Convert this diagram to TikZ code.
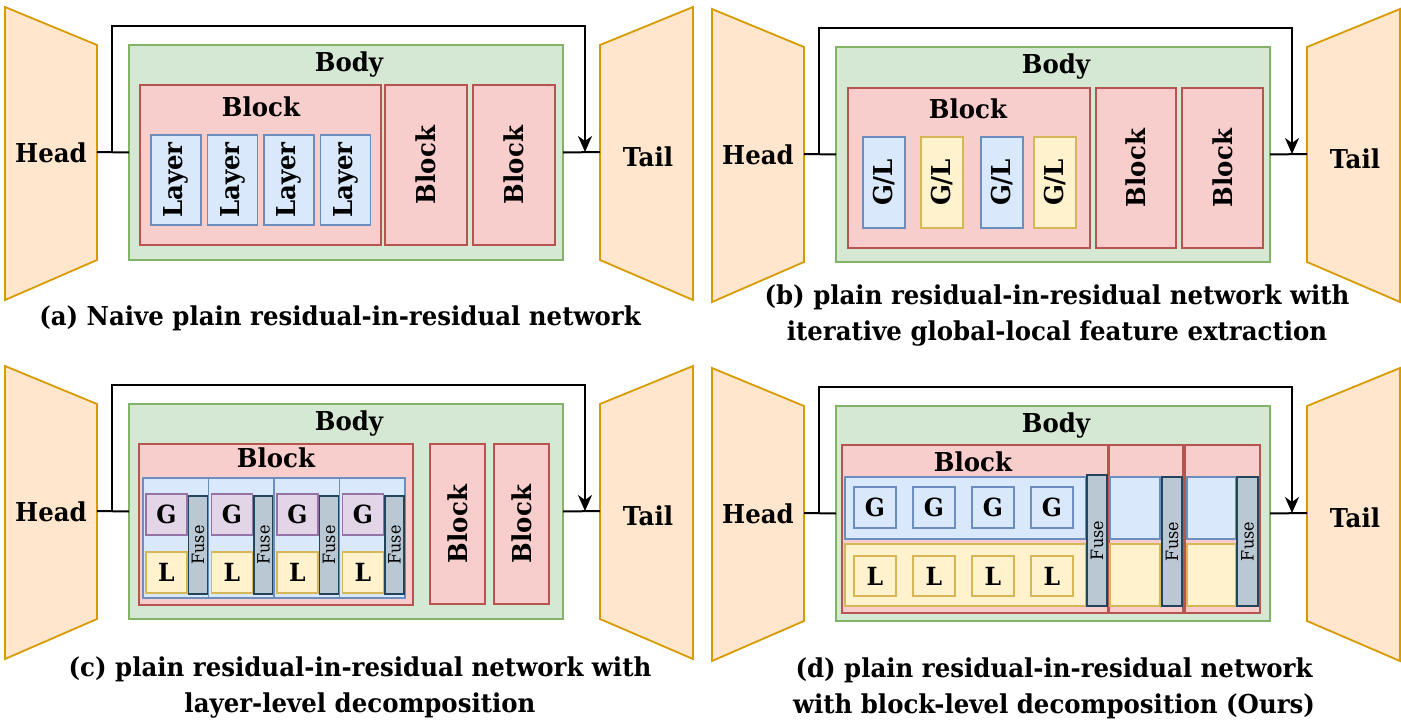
\documentclass[tikz,border=0pt]{standalone}
\usepackage{fontspec}
\setmainfont{DejaVu Serif}[FakeStretch=0.94]
\usetikzlibrary{arrows.meta,calc}
\definecolor{hdF}{HTML}{FFE6CC}\definecolor{hdD}{HTML}{D79B00}
\definecolor{bdF}{HTML}{D5E8D4}\definecolor{bdD}{HTML}{82B366}
\definecolor{bkF}{HTML}{F8CECC}\definecolor{bkD}{HTML}{B85450}
\definecolor{blF}{HTML}{DAE8FC}\definecolor{blD}{HTML}{6C8EBF}
\definecolor{ylF}{HTML}{FFF2CC}\definecolor{ylD}{HTML}{D6B656}
\definecolor{puF}{HTML}{E1D5E7}\definecolor{puD}{HTML}{9673A6}
\definecolor{fuF}{HTML}{BAC8D3}\definecolor{fuD}{HTML}{23445D}
\tikzset{
 box/.style={draw, line width=1.6pt, inner sep=0pt, outer sep=0pt, font=\fontsize{25}{28}\selectfont\bfseries},
 headst/.style={draw=hdD, fill=hdF, line width=1.8pt, line join=miter},
 bodybox/.style={box, fill=bdF, draw=bdD},
 blockbox/.style={box, fill=bkF, draw=bkD},
 bluebox/.style={box, fill=blF, draw=blD},
 yelbox/.style={box, fill=ylF, draw=ylD},
 purbox/.style={box, fill=puF, draw=puD},
 fusebox/.style={box, fill=fuF, draw=fuD},
 ttl/.style={font=\fontsize{26}{30}\selectfont\bfseries, inner sep=0pt},
 vtxt/.style={ttl, rotate=90},
 fusetxt/.style={font=\fontsize{17}{20}\selectfont, inner sep=0pt, rotate=90},
 capt/.style={font=\fontsize{26}{36}\selectfont\bfseries, inner sep=0pt, align=center},
 wire/.style={line width=2pt, black},
 arr/.style={wire, -{Stealth[length=16pt,width=14pt,inset=5pt]}},
}
\newcommand\Rbox[7]{%
 \node[#2, minimum width={(#5)-(#3)}, minimum height={(#6)-(#4)}] (#1) at ({((#3)+(#5))/2},{((#4)+(#6))/2}) {#7};}
\newcommand\Frame[3]{%
 \begin{scope}[shift={(#2,#3)}]
  \draw[headst] (5,7) -- (97,45) -- (97,260) -- (5,300) -- cycle;
  \coordinate (#1hr) at (97,152);
  \node[ttl] (#1hl) at (51,153) {Head};
  \Rbox{#1body}{bodybox}{129}{45}{563}{260}{}
  \node[ttl] (#1bl) at (349,65) {Body};
  \draw[headst] (600,45) -- (693,7) -- (693,300) -- (600,260) -- cycle;
  \coordinate (#1tl) at (600,152);
  \node[ttl] (#1tlab) at (648,157) {Tail};
  \coordinate (#1s) at (112,152);
  \coordinate (#1u) at (112,26);
  \coordinate (#1t) at (585,152);
 \end{scope}
 \draw[wire] (#1hr) -- (#1body.west);
 \draw[wire] (#1body.east) -- (#1tl);
 \draw[arr] (#1s) -- (#1u) -| (#1t);
}
\begin{document}
\begin{tikzpicture}[x=1pt,y=-1pt]
\useasboundingbox (0,0) rectangle (1401,723);
\Frame{a}{0}{0}
\Frame{b}{707}{2}
\Frame{c}{0}{359}
\Frame{d}{707}{361}
% ---------- panel (a)
\Rbox{ablk}{blockbox}{140}{85}{381}{245}{}
\node[ttl] (ablkl) at (261,107) {Block};
\foreach \i/\x in {1/151,2/207.5,3/264,4/320.5}{
 \Rbox{aly\i}{bluebox}{\x}{135}{\x+50}{225}{}
 \node[vtxt] (alyt\i) at (aly\i) {Layer};}
\Rbox{ab2}{blockbox}{385}{85}{467}{245}{}
\node[vtxt] (ab2t) at (ab2) {Block};
\Rbox{ab3}{blockbox}{473}{85}{555}{245}{}
\node[vtxt] (ab3t) at (ab3) {Block};
\node[capt] (acap) at (340,318) {(a) Naive plain residual-in-residual network};
% ---------- panel (b)
\Rbox{bblk}{blockbox}{848}{88}{1090}{248}{}
\node[ttl] (bblkl) at (968,109) {Block};
\foreach \i/\x/\s in {1/863/bluebox,2/921/yelbox,3/981/bluebox,4/1034/yelbox}{
 \Rbox{bgl\i}{\s}{\x}{137}{\x+42}{228}{}
 \node[vtxt] (bglt\i) at (bgl\i) {G/L};}
\Rbox{bb2}{blockbox}{1096}{88}{1176}{248}{}
\node[vtxt] (bb2t) at (bb2) {Block};
\Rbox{bb3}{blockbox}{1182}{88}{1263}{248}{}
\node[vtxt] (bb3t) at (bb3) {Block};
\node[capt] (bcap) at (1057,316) {(b) plain residual-in-residual network with\\iterative global-local feature extraction};
% ---------- panel (c)
\Rbox{cblk}{blockbox}{139}{444}{413}{605}{}
\node[ttl] (cblkl) at (276,458) {Block};
\foreach \i in {0,1,2,3}{
 \pgfmathsetmacro\cx{143+65.5*\i}
 \Rbox{ccol\i}{bluebox}{\cx}{478}{\cx+65.5}{598}{}
 \Rbox{cg\i}{purbox}{\cx+3}{494}{\cx+44}{535}{G}
 \Rbox{cl\i}{yelbox}{\cx+3}{552}{\cx+44}{593}{L}
 \Rbox{cf\i}{fusebox}{\cx+45.5}{496}{\cx+64.5}{594}{}
 \node[fusetxt] (cft\i) at (cf\i) {Fuse};}
\Rbox{cb2}{blockbox}{430}{444}{485}{604}{}
\node[vtxt] (cb2t) at (cb2) {Block};
\Rbox{cb3}{blockbox}{494}{444}{549}{604}{}
\node[vtxt] (cb3t) at (cb3) {Block};
\node[capt] (ccap) at (360,688) {(c) plain residual-in-residual network with\\layer-level decomposition};
% ---------- panel (d)
\Rbox{db1}{blockbox}{842}{445}{1108}{613}{}
\Rbox{db2}{blockbox}{1109}{445}{1183}{613}{}
\Rbox{db3}{blockbox}{1185}{445}{1260}{613}{}
\node[ttl] (dblkl) at (973,462) {Block};
\Rbox{dg1}{bluebox}{845}{477}{1086}{539}{}
\Rbox{dl1}{yelbox}{845}{544}{1086}{606}{}
\Rbox{df1}{fusebox}{1087}{475}{1107}{606}{}
\node[fusetxt] (df1t) at (df1) {Fuse};
\foreach \i/\x in {1/854,2/913,3/972,4/1031}{
 \Rbox{dgg\i}{bluebox}{\x}{487}{\x+42}{528}{G}
 \Rbox{dll\i}{yelbox}{\x}{556}{\x+42}{596}{L}}
\Rbox{dg2}{bluebox}{1110}{477}{1160}{539}{}
\Rbox{dl2}{yelbox}{1110}{544}{1160}{606}{}
\Rbox{df2}{fusebox}{1162}{477}{1182}{606}{}
\node[fusetxt] (df2t) at (df2) {Fuse};
\Rbox{dg3}{bluebox}{1187}{477}{1236}{539}{}
\Rbox{dl3}{yelbox}{1187}{544}{1236}{606}{}
\Rbox{df3}{fusebox}{1237}{477}{1258}{606}{}
\node[fusetxt] (df3t) at (df3) {Fuse};
\node[capt] (dcap) at (1054,688) {(d) plain residual-in-residual network\\with block-level decomposition (Ours)};
\end{tikzpicture}
\end{document}
